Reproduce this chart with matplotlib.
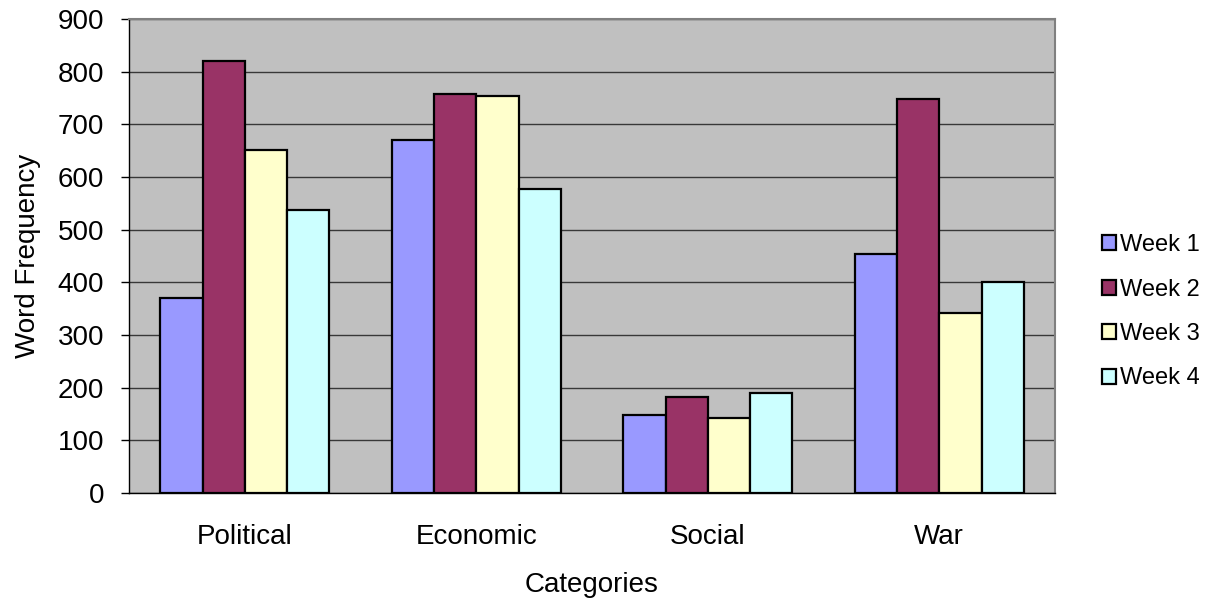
import matplotlib

matplotlib.use("Agg")
import matplotlib.pyplot as plt  # noqa: E402
import numpy as np               # noqa: E402

categories = ["Political", "Economic", "Social", "War"]
series = ["Week 1", "Week 2", "Week 3", "Week 4"]
week1 = [371, 671, 149, 453]
week2 = [821, 758, 182, 749]
week3 = [652, 754, 143, 342]
week4 = [537, 578, 190, 400]
yticks = [0, 100, 200, 300, 400, 500, 600, 700, 800, 900]

colors = ["#9999FF", "#993366", "#FFFFCC", "#CCFFFF"]

plt.rcParams["font.family"] = ["Liberation Sans", "DejaVu Sans"]

fig = plt.figure(figsize=(12.07, 6.03), dpi=100)
ax = fig.add_axes([0.1069, 0.1824, 0.7672, 0.7861])
ax.set_facecolor("#C0C0C0")

x = np.arange(len(categories))
width = 0.1825
for i, (vals, name) in enumerate(zip([week1, week2, week3, week4], series)):
    ax.bar(x + (i - 1.5) * width, vals, width, color=colors[i],
           edgecolor="black", linewidth=1.6, label=name, zorder=3)

ax.set_xlim(-0.5, 3.5)
ax.set_ylim(0, 900)
ax.set_yticks(yticks)
ax.set_xticks(x)
ax.set_xticklabels(categories)
ax.tick_params(axis="x", length=0, pad=22, labelsize=20)
ax.tick_params(axis="y", length=6, width=1, direction="out", pad=12, labelsize=20)
ax.grid(axis="y", color="#383838", lw=1, zorder=1)

for s in ["top", "right"]:
    ax.spines[s].set_color("#808080")
    ax.spines[s].set_linewidth(1.5)
for s in ["left", "bottom"]:
    ax.spines[s].set_color("black")
    ax.spines[s].set_linewidth(1)

ax.set_xlabel("Categories", fontsize=20, labelpad=16)
ax.set_ylabel("Word Frequency", fontsize=20, labelpad=12)

fig.legend(loc="center left", bbox_to_anchor=(0.895, 0.483), frameon=False,
           fontsize=17, handlelength=0.6, handleheight=0.6, handletextpad=0.2,
           labelspacing=0.95)

fig.savefig("out.png", dpi=100)
